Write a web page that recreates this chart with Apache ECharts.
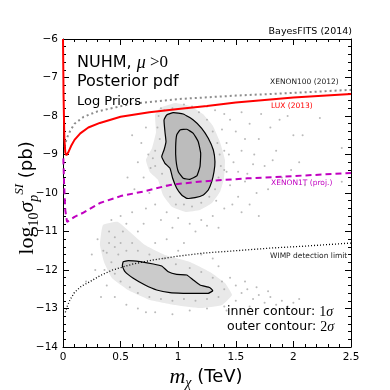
<!DOCTYPE html>
<html>
<head>
<meta charset="utf-8">
<script src="https://cdn.jsdelivr.net/npm/echarts@6/dist/echarts.min.js"></script>
<style>
  html, body { margin: 0; padding: 0; background: #fff; }
  #chart { width: 390px; height: 390px; }
</style>
</head>
<body>
<div id="chart"></div>
<script>
// axes
const xTicks = [0, 0.5, 1, 1.5, 2, 2.5]
const yTicks = [-14, -13, -12, -11, -10, -9, -8, -7, -6]

// limit curves (m in TeV, log10 sigma)
const luxM = [0, 0.005, 0.012, 0.02, 0.03, 0.045, 0.07, 0.1, 0.15, 0.22, 0.32, 0.5, 0.75, 1.0, 1.25, 1.5, 2.0, 2.5]
const luxV = [-6, -7.5, -8.6, -8.95, -9.02, -8.95, -8.78, -8.62, -8.45, -8.3, -8.18, -8.02, -7.9, -7.82, -7.74, -7.65, -7.52, -7.43]
const xe100M = [0.015, 0.03, 0.06, 0.1, 0.18, 0.3, 0.6, 1.0, 1.5, 2.0, 2.5]
const xe100V = [-8.8, -8.6, -8.4, -8.2, -8.02, -7.88, -7.68, -7.56, -7.47, -7.4, -7.32]
const xe1tM = [0.003, 0.01, 0.02, 0.035, 0.06, 0.1, 0.17, 0.32, 0.5, 0.7, 0.93, 1.2, 1.6, 2.0, 2.5]
const xe1tV = [-9.1, -9.8, -10.45, -10.75, -10.7, -10.62, -10.52, -10.26, -10.08, -9.96, -9.79, -9.7, -9.62, -9.56, -9.48]
const wimpM = [0.02, 0.04, 0.06, 0.1, 0.16, 0.23, 0.32, 0.43, 0.6, 0.78, 1.0, 1.22, 1.5, 1.8, 2.1, 2.5]
const wimpV = [-13.1, -12.92, -12.78, -12.58, -12.42, -12.31, -12.15, -12.0, -11.85, -11.74, -11.64, -11.56, -11.5, -11.43, -11.38, -11.3]

// posterior regions
const upperHalo = [[0.842,-7.79],[0.972,-7.66],[1.102,-7.74],[1.215,-7.95],[1.302,-8.26],[1.363,-8.68],[1.406,-9.14],[1.398,-9.61],[1.363,-9.97],[1.293,-10.26],[1.189,-10.44],[1.059,-10.49],[0.946,-10.36],[0.868,-10.05],[0.825,-9.66],[0.755,-9.46],[0.72,-9.14],[0.773,-8.83],[0.807,-8.42],[0.799,-7.97]]
const upper2s = [[0.9,-7.974],[0.957,-7.914],[1.044,-7.948],[1.131,-8.104],[1.204,-8.319],[1.261,-8.579],[1.305,-8.883],[1.319,-9.187],[1.311,-9.447],[1.291,-9.706],[1.261,-9.922],[1.218,-10.052],[1.146,-10.122],[1.074,-10.138],[1.03,-10.052],[0.987,-9.878],[0.952,-9.618],[0.929,-9.358],[0.885,-9.229],[0.857,-9.057],[0.877,-8.883],[0.894,-8.668],[0.885,-8.408],[0.877,-8.104]]
const upper1s = [[1.016,-8.364],[1.074,-8.345],[1.131,-8.449],[1.174,-8.668],[1.195,-8.969],[1.189,-9.317],[1.161,-9.558],[1.102,-9.644],[1.044,-9.618],[1.001,-9.447],[0.981,-9.143],[0.978,-8.797],[0.987,-8.494]]
const lowerHalo = [[0.347,-10.83],[0.477,-10.75],[0.582,-11.01],[0.712,-11.35],[0.885,-11.61],[1.102,-11.79],[1.276,-12.05],[1.406,-12.34],[1.467,-12.65],[1.38,-12.91],[1.189,-12.99],[0.972,-12.91],[0.755,-12.78],[0.564,-12.52],[0.425,-12.21],[0.356,-11.79],[0.321,-11.35]]
const lower2s = [[0.523,-11.784],[0.567,-11.758],[0.668,-11.784],[0.784,-11.844],[0.857,-11.896],[0.914,-12.044],[0.987,-12.112],[1.074,-12.13],[1.131,-12.26],[1.189,-12.39],[1.276,-12.46],[1.3,-12.538],[1.261,-12.605],[1.161,-12.605],[1.044,-12.605],[0.929,-12.59],[0.813,-12.519],[0.712,-12.39],[0.61,-12.216],[0.538,-12.044],[0.515,-11.896]]

// samples outside the dense cores
const upperDots = [[1.45,-8.1],[1.5,-8.4],[1.42,-8.7],[1.55,-8.9],[1.48,-9.2],[1.6,-9.5],[1.45,-9.8],[1.52,-10.1],[1.62,-8.2],[1.7,-8.6],[1.66,-9.0],[1.75,-9.3],[1.58,-9.7],[1.68,-10.0],[1.8,-8.3],[1.85,-8.9],[1.9,-9.6],[1.78,-9.9],[2.0,-8.5],[2.05,-9.2],[1.95,-8.0],[2.1,-9.8],[1.4,-10.4],[1.3,-10.6],[1.2,-10.7],[1.1,-10.8],[1.0,-10.65],[0.9,-10.5],[1.35,-10.9],[1.55,-10.5],[0.7,-9.6],[0.65,-9.2],[0.68,-8.7],[0.72,-8.3],[0.75,-10.0],[0.62,-9.9],[0.8,-10.3],[1.4,-7.95],[1.32,-7.85],[1.55,-7.9],[1.25,-7.75],[0.95,-10.9],[1.62,-10.3],[2.23,-8.05],[2.08,-8.5],[2.42,-8.83],[2.42,-9.71],[1.72,-7.95],[1.42,-9.45],[1.44,-9.0],[1.38,-8.35],[0.6,-8.5],[0.56,-9.6],[1.12,-7.75],[1.05,-7.7],[0.85,-7.8],[1.88,-8.1],[1.98,-9.4],[1.52,-9.45],[1.47,-10.3],[1.25,-10.85],[0.85,-10.7],[0.72,-10.4],[1.15,-11.0],[1.7,-10.6],[1.58,-8.6],[1.65,-9.25],[1.82,-9.15]]
const upperNear = [[0.83,-8.0],[0.82,-8.3],[0.84,-8.6],[0.8,-8.9],[0.78,-9.1],[0.8,-9.3],[0.86,-9.5],[0.9,-9.8],[0.93,-10.1],[0.98,-10.3],[1.05,-10.3],[1.12,-10.35],[1.2,-10.25],[1.27,-10.1],[1.32,-9.9],[1.35,-9.6],[1.37,-9.3],[1.36,-9.0],[1.34,-8.7],[1.3,-8.4],[1.25,-8.1],[1.18,-7.9],[1.08,-7.8],[0.95,-7.8],[0.88,-7.85],[0.76,-9.35],[0.74,-9.0],[1.4,-9.4],[1.4,-8.9],[1.33,-10.2]]
const lowerDots = [[0.3,-11.2],[0.35,-11.5],[0.4,-11.0],[0.45,-11.4],[0.28,-12.0],[0.38,-12.4],[0.45,-12.7],[0.55,-12.9],[0.65,-13.0],[0.8,-13.1],[0.95,-13.15],[1.1,-13.05],[1.25,-13.0],[1.4,-12.95],[1.5,-12.8],[1.55,-12.6],[1.6,-12.5],[1.65,-12.75],[1.7,-12.65],[1.75,-12.85],[1.8,-12.7],[1.85,-12.9],[1.9,-12.8],[1.95,-12.95],[2.0,-12.85],[1.5,-12.4],[1.45,-12.2],[1.35,-11.9],[1.2,-11.6],[1.0,-11.5],[0.8,-11.3],[0.65,-11.0],[0.55,-10.8],[0.5,-10.6],[0.7,-10.8],[0.9,-11.2],[1.58,-12.3],[1.68,-12.45],[0.25,-11.6],[0.33,-12.7],[0.6,-10.5],[0.42,-10.7],[1.05,-11.3],[1.3,-11.7],[1.42,-13.05],[1.62,-12.95],[0.72,-13.1],[1.78,-12.55],[2.05,-12.75],[0.2,-12.3]]
const lowerNear = [[0.4,-11.3],[0.45,-11.15],[0.5,-11.3],[0.55,-11.5],[0.48,-11.6],[0.42,-11.8],[0.45,-12.1],[0.5,-12.3],[0.58,-12.45],[0.65,-12.6],[0.75,-12.7],[0.85,-12.75],[0.95,-12.8],[1.05,-12.75],[1.15,-12.8],[1.25,-12.75],[1.35,-12.7],[1.4,-12.5],[1.38,-12.3],[1.3,-12.2],[1.2,-12.05],[1.1,-11.95],[0.98,-11.85],[0.88,-11.7],[0.75,-11.6],[0.65,-11.5],[0.6,-11.3],[0.52,-11.0],[0.38,-11.55],[0.36,-12.0]]

const zip = (a, b) => a.map((v, i) => [v, b[i]])
const SANS = 'DejaVu Sans'
const SERIF = 'Liberation Serif'

function region(pts, fill, stroke, z) {
  return {
    type: 'custom', data: pts, silent: true, z: z, clip: true,
    renderItem: function (params, api) {
      if (params.dataIndex !== 0) return null
      return {
        type: 'polygon',
        shape: { points: pts.map(p => api.coord(p)), smooth: 0.12 },
        style: { fill: fill, stroke: stroke, lineWidth: 1.2 }
      }
    }
  }
}

function limit(m, v, color, width, type) {
  return {
    type: 'line', data: zip(m, v), showSymbol: false, symbol: 'none', z: 6,
    lineStyle: { color: color, width: width, type: type }, silent: true
  }
}

function axisX(pos, labels) {
  return {
    type: 'value', min: 0, max: 2.5, interval: 0.5, position: pos,
    axisLine: { onZero: false, lineStyle: { color: '#000', width: 1 } },
    axisTick: { inside: true, length: 6, lineStyle: { color: '#000' } },
    minorTick: { show: true, splitNumber: 5, length: 3, lineStyle: { color: '#000' } },
    splitLine: { show: false },
    axisLabel: { show: labels, color: '#000', fontSize: 10.5, fontFamily: SANS, margin: 5,
      formatter: v => String(v) }
  }
}

function axisY(pos, labels) {
  return {
    type: 'value', min: -14, max: -6, interval: 1, position: pos,
    axisLine: { onZero: false, lineStyle: { color: '#000', width: 1 } },
    axisTick: { inside: true, length: 6, lineStyle: { color: '#000' } },
    minorTick: { show: true, splitNumber: 5, length: 3, lineStyle: { color: '#000' } },
    splitLine: { show: false },
    axisLabel: { show: labels, color: '#000', fontSize: 10.5, fontFamily: SANS, margin: 5,
      formatter: v => (v < 0 ? '\u2212' + (-v) : String(v)) }
  }
}

function label(x, y, text, size, color, rich, align) {
  const a = align || 'left'
  return {
    type: 'text', x: x, y: y, silent: true, z: 20,
    style: { text: text, fontSize: size, fontFamily: SANS, fill: color,
      align: a, textAlign: a, verticalAlign: 'middle', textVerticalAlign: 'middle',
      rich: rich }
  }
}

const chart = echarts.init(document.getElementById('chart'))
chart.setOption({
  animation: false,
  grid: { left: 63, right: 39, top: 39, bottom: 43 },
  xAxis: [axisX('bottom', true), axisX('top', false)],
  yAxis: [axisY('left', true), axisY('right', false)],
  series: [
    region(upperHalo, '#e9e9e9', null, 1),
    region(lowerHalo, '#e9e9e9', null, 1),
    {
      type: 'scatter', data: upperDots.concat(upperNear, lowerDots, lowerNear), symbolSize: 2, z: 2, silent: true,
      itemStyle: { color: '#a9a9a9' }
    },
    region(upper2s, '#bcbcbc', '#000', 3),
    region(upper1s, 'none', '#000', 4),
    region(lower2s, '#cbcbcb', '#000', 3),
    limit(xe100M, xe100V, '#8c8c8c', 2, [2, 3]),
    limit(luxM, luxV, '#ff0000', 2, 'solid'),
    limit(xe1tM, xe1tV, '#c000c0', 2, [6, 4]),
    limit(wimpM, wimpV, '#000', 1.3, [1, 2])
  ],
  graphic: [
    label(352, 32, 'BayesFITS (2014)', 9.5, '#000', null, 'right'),
    label(77, 63, '{a|NUHM, }{m|\u03bc}{b| >0}', 16, '#000', {
      a: { fontSize: 16, fontFamily: SANS },
      m: { fontSize: 18, fontFamily: SERIF, fontStyle: 'italic' },
      b: { fontSize: 17, fontFamily: SERIF }
    }),
    label(77, 82, 'Posterior pdf', 16, '#000'),
    label(77, 102, 'Log Priors', 13, '#000'),
    label(270, 82, 'XENON100 (2012)', 7.5, '#222'),
    label(271, 106, 'LUX (2013)', 7.5, '#ff0000'),
    label(271, 183, 'XENON1T (proj.)', 7.5, '#c000c0'),
    label(270, 256, 'WIMP detection limit', 7.5, '#222'),
    label(227, 312, '{a|inner contour: }{b|1}{s|\u03c3}', 12.5, '#000', {
      a: { fontSize: 12.5, fontFamily: SANS },
      b: { fontSize: 14, fontFamily: SERIF },
      s: { fontSize: 14, fontFamily: SERIF, fontStyle: 'italic' }
    }),
    label(227, 327, '{a|outer contour: }{b|2}{s|\u03c3}', 12.5, '#000', {
      a: { fontSize: 12.5, fontFamily: SANS },
      b: { fontSize: 14, fontFamily: SERIF },
      s: { fontSize: 14, fontFamily: SERIF, fontStyle: 'italic' }
    }),
    // axis names
    {
      type: 'text', x: 206, y: 377, silent: true,
      style: {
        text: '{m|m}{c|\u03c7}{t| (TeV)}', align: 'center', textAlign: 'center',
        verticalAlign: 'middle', textVerticalAlign: 'middle',
        rich: {
          m: { fontSize: 22, fontFamily: SERIF, fontStyle: 'italic', lineHeight: 26, verticalAlign: 'middle' },
          c: { fontSize: 14, fontFamily: SERIF, fontStyle: 'italic', lineHeight: 14, verticalAlign: 'bottom' },
          t: { fontSize: 18, fontFamily: SANS, lineHeight: 26, verticalAlign: 'middle' }
        }
      }
    },
    {
      type: 'text', x: 27, y: 198, rotation: Math.PI / 2, silent: true,
      style: {
        text: '{l|log}{d|10}{s|\u03c3}{p|p}{q|SI}{t| (pb)}', align: 'center', textAlign: 'center',
        verticalAlign: 'middle', textVerticalAlign: 'middle',
        rich: {
          l: { fontSize: 22, fontFamily: SERIF, lineHeight: 28, verticalAlign: 'middle' },
          d: { fontSize: 14, fontFamily: SERIF, lineHeight: 14, verticalAlign: 'bottom' },
          s: { fontSize: 22, fontFamily: SERIF, fontStyle: 'italic', lineHeight: 28, verticalAlign: 'middle' },
          p: { fontSize: 14, fontFamily: SERIF, fontStyle: 'italic', lineHeight: 14, verticalAlign: 'bottom' },
          q: { fontSize: 13, fontFamily: SERIF, fontStyle: 'italic', lineHeight: 13, verticalAlign: 'top' },
          t: { fontSize: 18, fontFamily: SANS, lineHeight: 28, verticalAlign: 'middle' }
        }
      }
    }
  ]
})
</script>
</body>
</html>
